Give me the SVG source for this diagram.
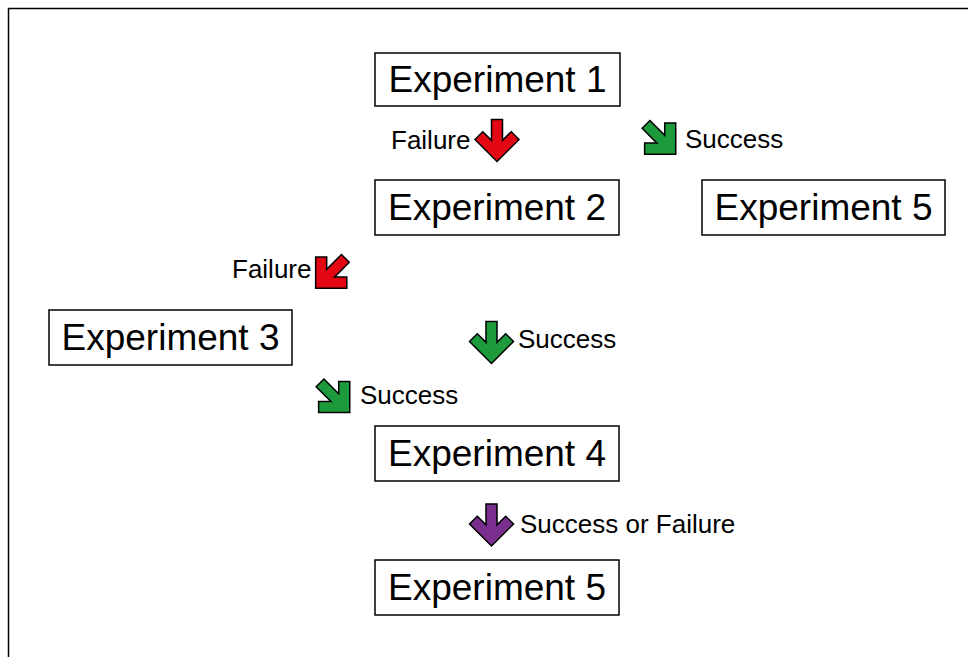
<svg xmlns="http://www.w3.org/2000/svg" width="968" height="657" viewBox="0 0 968 657">
<defs>
<style>
.box{fill:#fff;stroke:#000;stroke-width:1.5}
.nt{font-family:"Liberation Sans",Arial,sans-serif;font-size:37px;fill:#000;text-anchor:middle}
.lb{font-family:"Liberation Sans",Arial,sans-serif;font-size:26px;fill:#000}
.ar{stroke:#000;stroke-width:1.5;stroke-linejoin:miter}
.red{fill:#e30613}
.grn{fill:#1c9a3c}
.pur{fill:#7a2e8e}
</style>
<path id="arr" d="M5.5,-22 L5.5,-1.1 L14.2,-9.8 L22,-2 L0,20 L-22,-2 L-14.2,-9.8 L-5.5,-1.1 L-5.5,-22 Z"/>
</defs>
<rect width="968" height="657" fill="#fff"/>
<path d="M8.5,657 L8.5,8.5 L968,8.5" fill="none" stroke="#000" stroke-width="1.5"/>

<g id="exp1"><rect class="box" x="375" y="53" width="245" height="53"/><text class="nt" x="497.5" y="92">Experiment 1</text></g>
<g id="exp2"><rect class="box" x="375" y="180" width="244" height="55"/><text class="nt" x="497" y="220">Experiment 2</text></g>
<g id="exp5a"><rect class="box" x="702" y="180" width="243" height="55"/><text class="nt" x="823.5" y="220">Experiment 5</text></g>
<g id="exp3"><rect class="box" x="49" y="310" width="243" height="55"/><text class="nt" x="170.5" y="350">Experiment 3</text></g>
<g id="exp4"><rect class="box" x="375" y="426" width="244" height="55"/><text class="nt" x="497" y="466">Experiment 4</text></g>
<g id="exp5b"><rect class="box" x="375" y="560" width="244" height="55"/><text class="nt" x="497" y="600">Experiment 5</text></g>

<g id="connectors">
<g id="c1"><use href="#arr" class="ar red" transform="translate(497,141.5)"/><text class="lb" x="391" y="149">Failure</text></g>
<g id="c2"><use href="#arr" class="ar grn" transform="translate(661.6,140) rotate(-45)"/><text class="lb" x="685" y="148">Success</text></g>
<g id="c3"><use href="#arr" class="ar red" transform="translate(329.8,274) rotate(45)"/><text class="lb" x="232" y="278">Failure</text></g>
<g id="c4"><use href="#arr" class="ar grn" transform="translate(491.5,343.5)"/><text class="lb" x="518" y="348">Success</text></g>
<g id="c5"><use href="#arr" class="ar grn" transform="translate(335.6,398.4) rotate(-45)"/><text class="lb" x="360" y="404">Success</text></g>
<g id="c6"><use href="#arr" class="ar pur" transform="translate(491.5,526)"/><text class="lb" x="520" y="533">Success or Failure</text></g>
</g>
</svg>
